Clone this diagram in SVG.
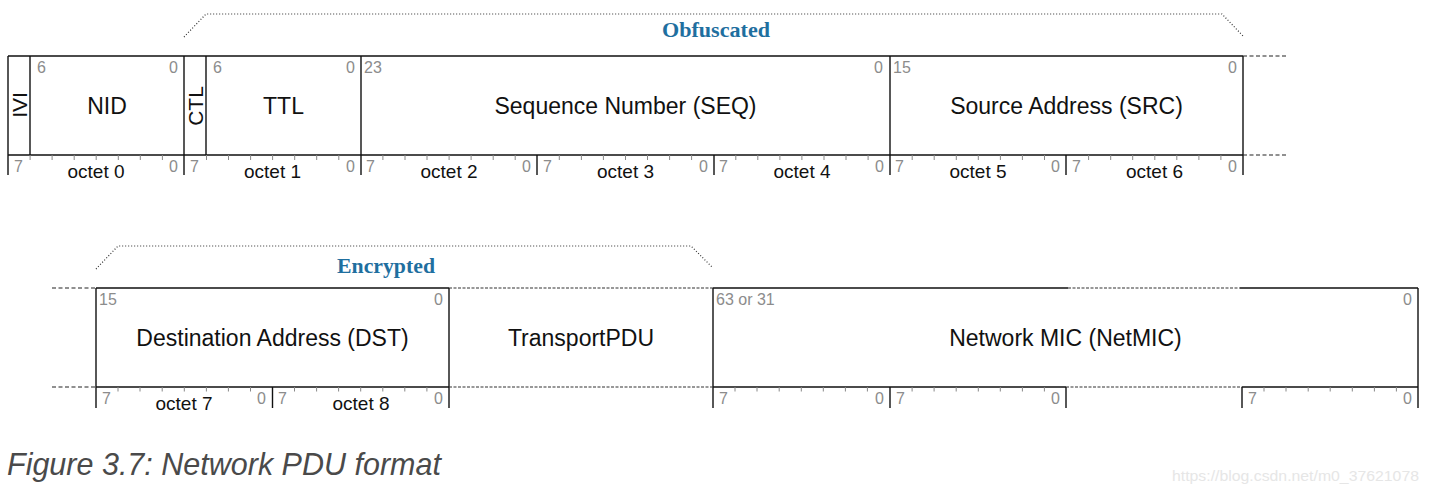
<svg xmlns="http://www.w3.org/2000/svg" width="1429" height="494" viewBox="0 0 1429 494">
<defs>
<style>
.ln{stroke:#111;stroke-width:1.4;fill:none}
.dash{stroke:#222;stroke-width:1.2;fill:none;stroke-dasharray:4 2.5}
.fdash{stroke:#333;stroke-width:1.1;fill:none;stroke-dasharray:3 1.5}
.dot{stroke:#333;stroke-width:1.2;fill:none;stroke-dasharray:1 2}
.tick{stroke:#888;stroke-width:1;fill:none}
.lbl{font-family:"Liberation Sans",Arial,sans-serif;font-size:23px;fill:#111;text-anchor:middle}
.rot{font-family:"Liberation Sans",Arial,sans-serif;font-size:21px;fill:#111;text-anchor:middle}
.bit{font-family:"Liberation Sans",Arial,sans-serif;font-size:16px;fill:#8c8c8c}
.end{text-anchor:end}
.oct{font-family:"Liberation Sans",Arial,sans-serif;font-size:19px;fill:#111;text-anchor:middle}
.brk{font-family:"Liberation Serif","DejaVu Serif",serif;font-weight:bold;font-size:21px;fill:#1f6f9f;text-anchor:middle}
</style>
</defs>
<rect width="1429" height="494" fill="#fff"/>

<!-- Row 1 frame -->
<g id="row1-frame">
<path class="ln" d="M8,56 H1243 M8,155 H1243 M8,56 V175 M1243,56 V175"/>
<path class="dash" d="M1243,56 H1288 M1243,155 H1288"/>
<path class="ln" d="M184,155 V175 M361,155 V175 M537,155 V175 M714,155 V175 M890,155 V175 M1066,155 V175"/>
<path class="tick" d="M30.1,155V160M52.1,155V160M74.2,155V160M96.2,155V160M118.3,155V160M140.3,155V160M162.4,155V160
M206.5,155V160M228.5,155V160M250.6,155V160M272.6,155V160M294.7,155V160M316.7,155V160M338.8,155V160
M382.9,155V160M405,155V160M427,155V160M449.1,155V160M471.1,155V160M493.2,155V160M515.2,155V160
M559.3,155V160M581.4,155V160M603.4,155V160M625.5,155V160M647.5,155V160M669.6,155V160M691.6,155V160
M735.8,155V160M757.8,155V160M779.9,155V160M801.9,155V160M824,155V160M846,155V160M868.1,155V160
M912.2,155V160M934.2,155V160M956.3,155V160M978.3,155V160M1000.4,155V160M1022.4,155V160M1044.5,155V160
M1088.6,155V160M1110.7,155V160M1132.7,155V160M1154.8,155V160M1176.8,155V160M1198.9,155V160M1220.9,155V160"/>
</g>

<g id="field-IVI">
<path class="ln" d="M30,56 V155"/>
<text class="rot" transform="translate(27,105) rotate(-90)">IVI</text>
</g>
<g id="field-NID">
<path class="ln" d="M184,56 V155"/>
<text class="bit" x="37" y="73">6</text>
<text class="bit end" x="178" y="73">0</text>
<text class="lbl" x="107" y="114">NID</text>
</g>
<g id="field-CTL">
<path class="ln" d="M206,56 V155"/>
<text class="rot" transform="translate(203,106) rotate(-90)">CTL</text>
</g>
<g id="field-TTL">
<path class="ln" d="M361,56 V155"/>
<text class="bit" x="213" y="73">6</text>
<text class="bit end" x="355" y="73">0</text>
<text class="lbl" x="283.5" y="114">TTL</text>
</g>
<g id="field-SEQ">
<path class="ln" d="M890,56 V155"/>
<text class="bit" x="364" y="73">23</text>
<text class="bit end" x="883" y="73">0</text>
<text class="lbl" x="625.5" y="114">Sequence Number (SEQ)</text>
</g>
<g id="field-SRC">
<text class="bit" x="893" y="73">15</text>
<text class="bit end" x="1237" y="73">0</text>
<text class="lbl" x="1066.5" y="114">Source Address (SRC)</text>
</g>

<g id="row1-octets">
<text class="bit" x="14" y="172">7</text><text class="bit end" x="178" y="172">0</text><text class="oct" x="96" y="178">octet 0</text>
<text class="bit" x="190" y="172">7</text><text class="bit end" x="355" y="172">0</text><text class="oct" x="272.5" y="178">octet 1</text>
<text class="bit" x="366" y="172">7</text><text class="bit end" x="531" y="172">0</text><text class="oct" x="449" y="178">octet 2</text>
<text class="bit" x="543" y="172">7</text><text class="bit end" x="708" y="172">0</text><text class="oct" x="625.5" y="178">octet 3</text>
<text class="bit" x="719" y="172">7</text><text class="bit end" x="884" y="172">0</text><text class="oct" x="802" y="178">octet 4</text>
<text class="bit" x="895" y="172">7</text><text class="bit end" x="1060" y="172">0</text><text class="oct" x="978" y="178">octet 5</text>
<text class="bit" x="1072" y="172">7</text><text class="bit end" x="1237" y="172">0</text><text class="oct" x="1154.5" y="178">octet 6</text>
</g>

<!-- Row 2 -->
<g id="row2-frame">
<path class="dash" d="M52,288 H96 M52,387 H96"/>
<path class="ln" d="M96,288 H449 M96,387 H449 M96,288 V408 M449,288 V408 M272.5,387 V408"/>
<path class="ln" d="M713,288 H1068 M1240,288 H1418 M713,387 H1066 M1242,387 H1418 M713,288 V408 M1418,288 V408 M890,387 V408 M1066,387 V408 M1242,387 V408"/>
<path class="fdash" d="M1068,288 H1240 M1066,387 H1242"/>
<path class="tick" d="M118,387V391.5M140,387V391.5M162.2,387V391.5M184.3,387V391.5M206.4,387V391.5M228.4,387V391.5M250.5,387V391.5
M294.5,387V391.5M316.6,387V391.5M338.6,387V391.5M360.7,387V391.5M382.8,387V391.5M404.8,387V391.5M426.9,387V391.5
M735,387V391.5M757,387V391.5M779.2,387V391.5M801.3,387V391.5M823.3,387V391.5M845.4,387V391.5M867.4,387V391.5
M912.1,387V391.5M934.1,387V391.5M956.2,387V391.5M978.3,387V391.5M1000.3,387V391.5M1022.4,387V391.5M1044.4,387V391.5
M1264,387V391.5M1286,387V391.5M1308.2,387V391.5M1330.2,387V391.5M1352.3,387V391.5M1374.4,387V391.5M1396.4,387V391.5"/>
</g>

<g id="field-DST">
<text class="bit" x="99" y="305">15</text>
<text class="bit end" x="443" y="305">0</text>
<text class="lbl" x="272.5" y="346">Destination Address (DST)</text>
<text class="bit" x="102" y="404">7</text><text class="bit end" x="266" y="404">0</text><text class="oct" x="184" y="410">octet 7</text>
<text class="bit" x="278" y="404">7</text><text class="bit end" x="443" y="404">0</text><text class="oct" x="361" y="410">octet 8</text>
</g>
<g id="field-TransportPDU">
<path class="fdash" d="M449,288 H713 M449,387 H713"/>
<text class="lbl" x="581" y="346">TransportPDU</text>
</g>
<g id="field-NetMIC">
<text class="bit" x="716" y="305">63 or 31</text>
<text class="bit end" x="1412" y="305">0</text>
<text class="lbl" x="1065.5" y="346">Network MIC (NetMIC)</text>
<text class="bit" x="719" y="404">7</text><text class="bit end" x="884" y="404">0</text>
<text class="bit" x="896" y="404">7</text><text class="bit end" x="1060" y="404">0</text>
<text class="bit" x="1248" y="404">7</text><text class="bit end" x="1412" y="404">0</text>
</g>

<g id="connectors">
<path class="dot" d="M184,37 L206,14 H1222 L1244,37"/>
<path class="dot" d="M96,269 L118,246 H691 L713,268"/>
</g>
<g id="label-obfuscated">
<text class="brk" x="716" y="37" textLength="108" lengthAdjust="spacingAndGlyphs">Obfuscated</text>
</g>
<g id="label-encrypted">
<text class="brk" x="386" y="273" textLength="98" lengthAdjust="spacingAndGlyphs">Encrypted</text>
</g>

<text x="7" y="475" font-family="Liberation Sans, Arial, sans-serif" font-style="italic" font-size="30.5" fill="#4a4a4a">Figure 3.7: Network PDU format</text>
<text x="1172" y="481" font-family="Liberation Sans, Arial, sans-serif" font-size="15.5" fill="#e6e6e6" textLength="247" lengthAdjust="spacingAndGlyphs">https://blog.csdn.net/m0_37621078</text>
</svg>
